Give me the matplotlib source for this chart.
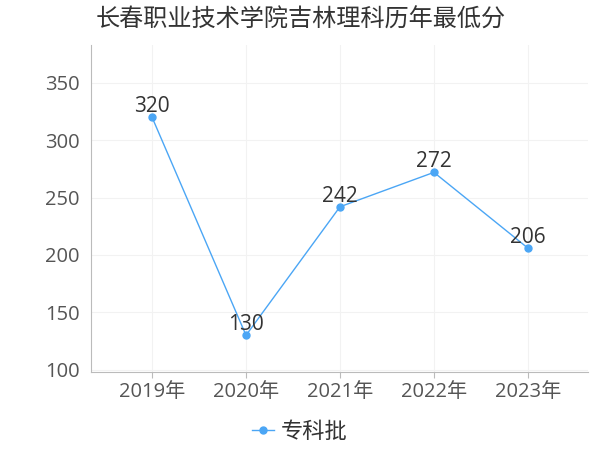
import matplotlib
matplotlib.use("Agg")
import matplotlib.pyplot as plt

plt.rcParams['font.family'] = ['Open Sans', 'Noto Sans CJK SC', 'DejaVu Sans']

title = "长春职业技术学院吉林理科历年最低分"
years = ["2019年", "2020年", "2021年", "2022年", "2023年"]
scores = [320, 130, 242, 272, 206]
series_name = "专科批"

line_color = "#4ba6f5"

fig = plt.figure(figsize=(6, 4.5), dpi=100)
ax = fig.add_axes([91 / 600, 1 - 372 / 450, (588 - 91) / 600, (372 - 45) / 450])

x = list(range(len(years)))
ax.plot(x, scores, color=line_color, lw=1.0, marker="o", ms=5, label=series_name)
for xi, v in zip(x, scores):
    ax.annotate(str(v), (xi, v), xytext=(0, 0), textcoords="offset points",
                ha="center", va="bottom", fontsize=15, color="#333333")

ax.set_xlim(-0.65, 4.64)
ax.set_ylim(98, 383)
ax.set_yticks([100, 150, 200, 250, 300, 350])
ax.set_xticks(x)
ax.set_xticklabels(years)

ax.grid(True, color="#f2f2f2", lw=0.8)
ax.set_axisbelow(True)
for s in ["top", "right"]:
    ax.spines[s].set_visible(False)
for s in ["left", "bottom"]:
    ax.spines[s].set_color("#bbbbbb")
ax.tick_params(axis="y", length=0, labelsize=14.5, labelcolor="#555555", pad=8)
ax.tick_params(axis="x", length=4, color="#bbbbbb", labelsize=14.5, labelcolor="#555555", pad=3)

fig.text(0.16, 0.955, title, fontsize=17.4, color="#333333", ha="left", va="center")

fig.legend(loc="center", bbox_to_anchor=(0.5, 0.04), frameon=False, fontsize=16,
           handlelength=1.0, handletextpad=0.3, labelcolor="#333333")

fig.savefig("out.png", dpi=100)
